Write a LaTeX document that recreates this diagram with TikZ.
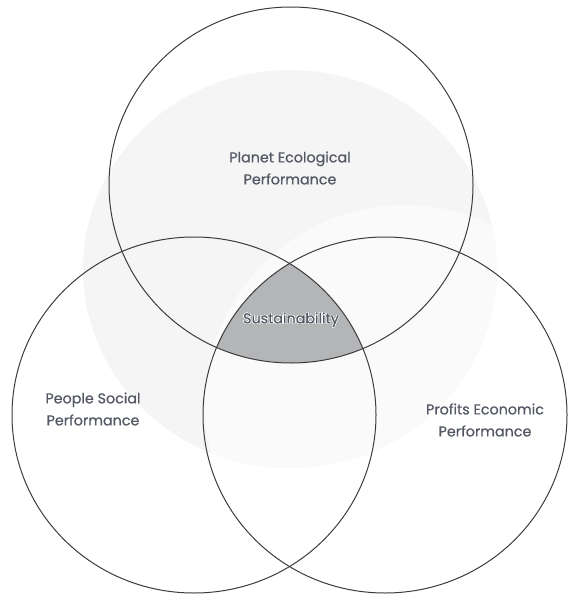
\documentclass[tikz,border=0pt]{standalone}
\usepackage{fontspec}
\setmainfont{Poppins}
\newfontfamily\pillarfont{Poppins}[FakeBold=0.6]
\usepackage{tikz}
\usepackage[copies]{contour}
\contourlength{0.5pt}
\definecolor{ringgrey}{RGB}{60, 60, 62}
\definecolor{labelgrey}{RGB}{84, 88, 100}
\definecolor{coregrey}{RGB}{180, 181, 183}
\definecolor{hazegrey}{RGB}{245, 245, 245}
\definecolor{hazelight}{RGB}{250, 250, 250}
\newcommand{\ringrx}{182}
\newcommand{\ringry}{178}

\begin{document}
\begin{tikzpicture}[x=1pt, y=-1pt,
    ring/.style={draw=ringgrey, line width=1pt},
    pillar/.style={text=labelgrey, align=center, font=\pillarfont\fontsize{14.3}{22}\selectfont}]
  \useasboundingbox (0,0) rectangle (568,596);

  % centres of the three pillars
  \coordinate (planet) at (291,185);
  \coordinate (people) at (194,415);
  \coordinate (profits) at (385,415);
  \coordinate (haze) at (290,269);

  % soft backdrop
  \fill[hazegrey] (haze) ellipse [x radius=207, y radius=199];
  \begin{scope}
    \clip (haze) ellipse [x radius=207, y radius=199];
    \fill[hazelight] (405,405) circle [radius=200];
  \end{scope}

  % common overlap
  \begin{scope}
    \clip (planet) ellipse [x radius=\ringrx, y radius=\ringry];
    \clip (people) ellipse [x radius=\ringrx, y radius=\ringry];
    \fill[coregrey] (profits) ellipse [x radius=\ringrx, y radius=\ringry];
  \end{scope}

  \draw[ring] (planet) ellipse [x radius=\ringrx, y radius=\ringry];
  \draw[ring] (people) ellipse [x radius=\ringrx, y radius=\ringry];
  \draw[ring] (profits) ellipse [x radius=\ringrx, y radius=\ringry];

  \node[pillar] (planettext) at (290,168) {Planet Ecological\\Performance};
  \node[pillar] (peopletext) at (93,409) {People Social\\Performance};
  \node[pillar] (profitstext) at (485,420) {Profits Economic\\Performance};
  \node[pillar] (coretext) at (291,320) {\contour{white}{Sustainability}};
\end{tikzpicture}
\end{document}
